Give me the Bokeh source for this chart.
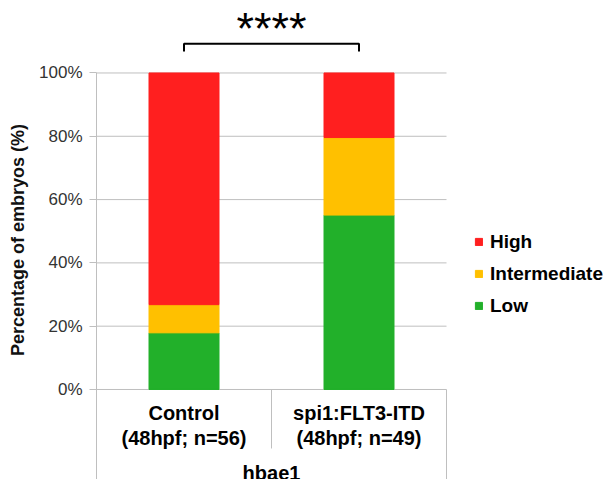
from bokeh.plotting import figure
from bokeh.models import (Range1d, FixedTicker, PrintfTickFormatter, Legend,
                          LegendItem, ColumnDataSource)
from bokeh.core.properties import value
from bokeh.embed import file_html
from bokeh.resources import INLINE

# ---------------- data ----------------
groups = ["Control", "spi1:FLT3-ITD"]
group_sub = ["(48hpf; n=56)", "(48hpf; n=49)"]
super_group = ["hbae1"]
levels = ["Low", "Intermediate", "High"]
low = [17.9, 55.1]
intermediate = [8.9, 24.5]
high = [73.2, 20.4]
level_colors = ["#22B02A", "#FFC000", "#FF1F1F"]
y_ticks = [0, 20, 40, 60, 80, 100]
significance = ["****"]

# ---------------- layout constants ----------------
Y0, Y1 = -28.44, 122.9
X1 = 516 / 175.0          # frame spans the legend area too
FONT = "Liberation Sans"
GRID = "#BFBFBF"

n = len(groups)
xc = [i + 0.5 for i in range(n)]
src = ColumnDataSource(dict(x=xc, Low=low, Intermediate=intermediate, High=high))

p = figure(width=612, height=479, output_backend="svg", toolbar_location=None,
           x_range=Range1d(0, X1), y_range=Range1d(Y0, Y1),
           x_axis_location=None,
           min_border_left=96, min_border_right=0, min_border_top=0,
           min_border_bottom=0)
p.outline_line_color = None
p.background_fill_color = "white"
p.border_fill_color = "white"
p.xgrid.visible = False
p.ygrid.visible = False

yax = p.yaxis[0]
yax.ticker = FixedTicker(ticks=y_ticks)
yax.formatter = PrintfTickFormatter(format="%d%%")
yax.bounds = (Y0, 100)
yax.axis_line_color = GRID
yax.major_tick_line_color = GRID
yax.major_tick_out = 7
yax.major_tick_in = 0
yax.minor_tick_line_color = None
yax.major_label_text_font = FONT
yax.major_label_text_font_size = "17px"
yax.major_label_text_color = "#333333"
yax.major_label_standoff = 7
yax.axis_label = "Percentage of embryos (%)"
yax.axis_label_text_font = FONT
yax.axis_label_text_font_style = "bold"
yax.axis_label_text_font_size = "18px"
yax.axis_label_text_color = "#111111"
yax.axis_label_standoff = 8

# horizontal gridlines across the category area only
p.segment(x0=[0] * len(y_ticks), y0=y_ticks, x1=[n] * len(y_ticks), y1=y_ticks,
          line_color=GRID, line_width=1)

# stacked bars
rs = p.vbar_stack(levels, x="x", width=0.4, color=level_colors, source=src)

# category separators below the bars
bounds_x = list(range(1, n + 1))
p.segment(x0=bounds_x, y0=[0] * len(bounds_x), x1=bounds_x,
          y1=[-18.64] * (len(bounds_x) - 1) + [Y0],
          line_color=GRID, line_width=1)

# category labels
txt = dict(text_align="center", text_baseline="middle", text_font=value(FONT),
           text_font_style="bold", text_font_size="20px", text_color="black")
p.text(x=xc, y=[-7.49] * n, text=groups, **txt)
p.text(x=xc, y=[-15.23] * n, text=group_sub, **txt)
p.text(x=[n / 2], y=[-26.29], text=super_group, **txt)

# significance bracket
p.line(x=[xc[0], xc[0], xc[-1], xc[-1]], y=[106.8, 109.2, 109.2, 106.8],
       line_color="black", line_width=2)
p.text(x=[n / 2], y=[114.0], text=significance, text_align="center",
       text_baseline="middle", text_font=value(FONT),
       text_font_size="45px", text_color="black")

# legend
items = [LegendItem(label=lv, renderers=[r]) for lv, r in zip(levels, rs)][::-1]
legend = Legend(items=items, location=(378, 162.5), orientation="vertical",
                glyph_width=9, glyph_height=9, label_standoff=7,
                label_height=22, spacing=10, padding=0, margin=0,
                border_line_color=None, background_fill_alpha=0,
                label_text_font=FONT, label_text_font_style="bold",
                label_text_font_size="19px", label_text_color="black")
p.add_layout(legend, "center")

open("out.html", "w").write(file_html(p, INLINE))
